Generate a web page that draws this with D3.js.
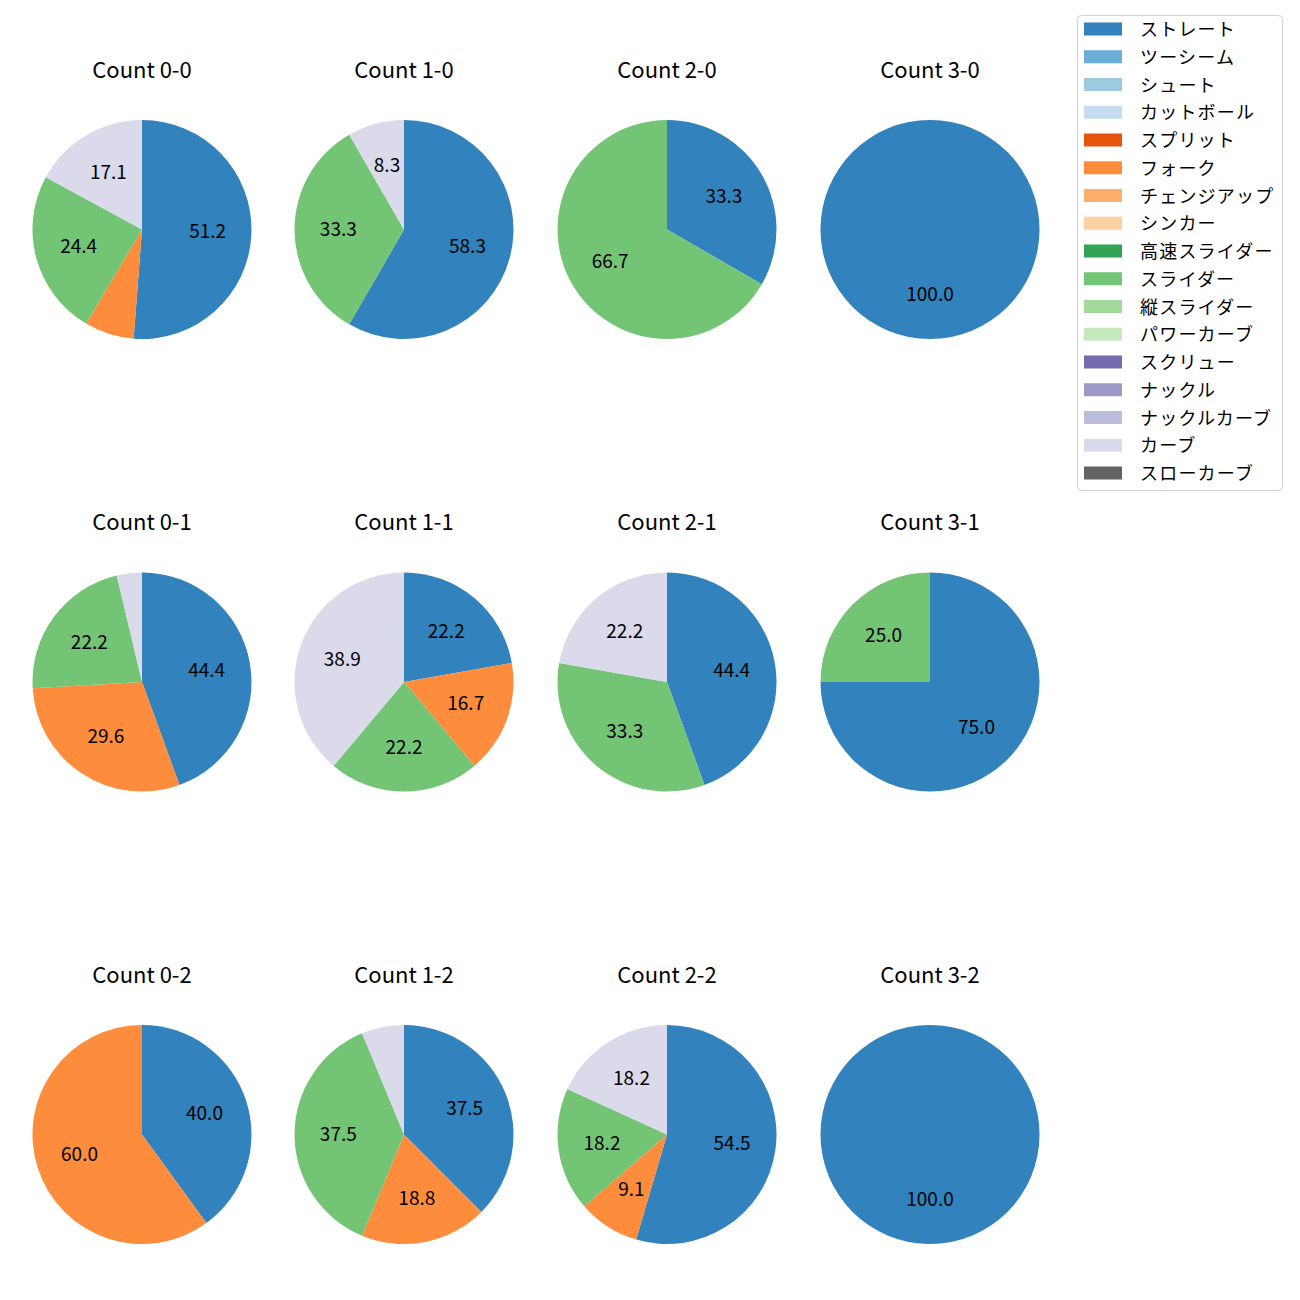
<!DOCTYPE html>
<html><head><meta charset="utf-8">
<script src="https://cdn.jsdelivr.net/npm/d3@7"></script>
<style>body{margin:0;background:#fff}svg{display:block}text{font-family:"Noto Sans CJK JP","Noto Sans",sans-serif}</style>
</head><body>
<script>
const pitchTypes = ["ストレート","ツーシーム","シュート","カットボール","スプリット","フォーク","チェンジアップ","シンカー","高速スライダー","スライダー","縦スライダー","パワーカーブ","スクリュー","ナックル","ナックルカーブ","カーブ","スローカーブ"];
const colors = ["#3182bd","#6baed6","#9ecae1","#c6dbef","#e6550d","#fd8d3c","#fdae6b","#fdd0a2","#31a354","#74c476","#a1d99b","#c7e9c0","#756bb1","#9e9ac8","#bcbddc","#dadaeb","#636363"];
const counts = ["0-0","1-0","2-0","3-0","0-1","1-1","2-1","3-1","0-2","1-2","2-2","3-2"];
// pitch counts per type (ストレート, フォーク, スライダー, カーブ)
const straight = [21, 7, 1, 2, 12, 4, 4, 3, 2, 6, 6, 1];
const fork     = [ 3, 0, 0, 0,  8, 3, 0, 0, 3, 3, 1, 0];
const slider   = [10, 4, 2, 0,  6, 4, 3, 1, 0, 6, 2, 0];
const curve    = [ 7, 1, 0, 0,  1, 7, 2, 0, 0, 1, 2, 0];

const W = 1300, H = 1300;
const svg = d3.select("body").append("svg").attr("width", W).attr("height", H);
const colX = [142, 404, 667, 930];
const rowY = [229.5, 682, 1134.5];
const R = 109.5;
const color = d3.scaleOrdinal().domain(pitchTypes).range(colors);

const pie = d3.pie().sort(null).value(d => d.v).startAngle(0).endAngle(2*Math.PI);
const arc = d3.arc().innerRadius(0).outerRadius(R);
const labelArc = d3.arc().innerRadius(R*0.6).outerRadius(R*0.6);

counts.forEach((c, i) => {
  const cx = colX[i % 4], cy = rowY[Math.floor(i / 4)];
  const data = [
    {k: "ストレート", v: straight[i]},
    {k: "フォーク", v: fork[i]},
    {k: "スライダー", v: slider[i]},
    {k: "カーブ", v: curve[i]}
  ].filter(d => d.v > 0);
  const total = d3.sum(data, d => d.v);
  const g = svg.append("g").attr("transform", `translate(${cx},${cy})`);
  const arcs = pie(data);
  g.selectAll("path").data(arcs).join("path")
    .attr("d", arc).attr("fill", d => color(d.data.k));
  g.selectAll("text.lab").data(arcs.filter(d => d.data.v / total * 100 >= 8)).join("text")
    .attr("class", "lab")
    .attr("transform", d => { const p = labelArc.centroid(d); return `translate(${p[0]},${p[1] - 2.5})`; })
    .attr("text-anchor", "middle").attr("dominant-baseline", "central")
    .attr("font-size", 19).attr("fill", "#000")
    .text(d => (d.data.v / total * 100).toFixed(1));
  svg.append("text").attr("x", cx).attr("y", cy - 162)
    .attr("text-anchor", "middle").attr("dominant-baseline", "central")
    .attr("font-size", 22).attr("fill", "#000").text("Count " + c);
});

// legend
const lg = svg.append("g");
lg.append("rect").attr("x", 1077.5).attr("y", 15.5).attr("width", 205).attr("height", 475)
  .attr("rx", 4).attr("fill", "#fff").attr("stroke", "#d0d0d0").attr("stroke-width", 1);
const ly = d3.scaleLinear().domain([0, pitchTypes.length - 1]).range([29, 473]);
pitchTypes.forEach((p, i) => {
  lg.append("rect").attr("x", 1084).attr("y", ly(i) - 6.5).attr("width", 38).attr("height", 13).attr("fill", color(p));
  lg.append("text").attr("x", 1140).attr("y", ly(i) - 1).attr("dominant-baseline", "central")
    .attr("font-size", 18).attr("letter-spacing", 1.2).attr("fill", "#000").text(p);
});
</script>
</body></html>
